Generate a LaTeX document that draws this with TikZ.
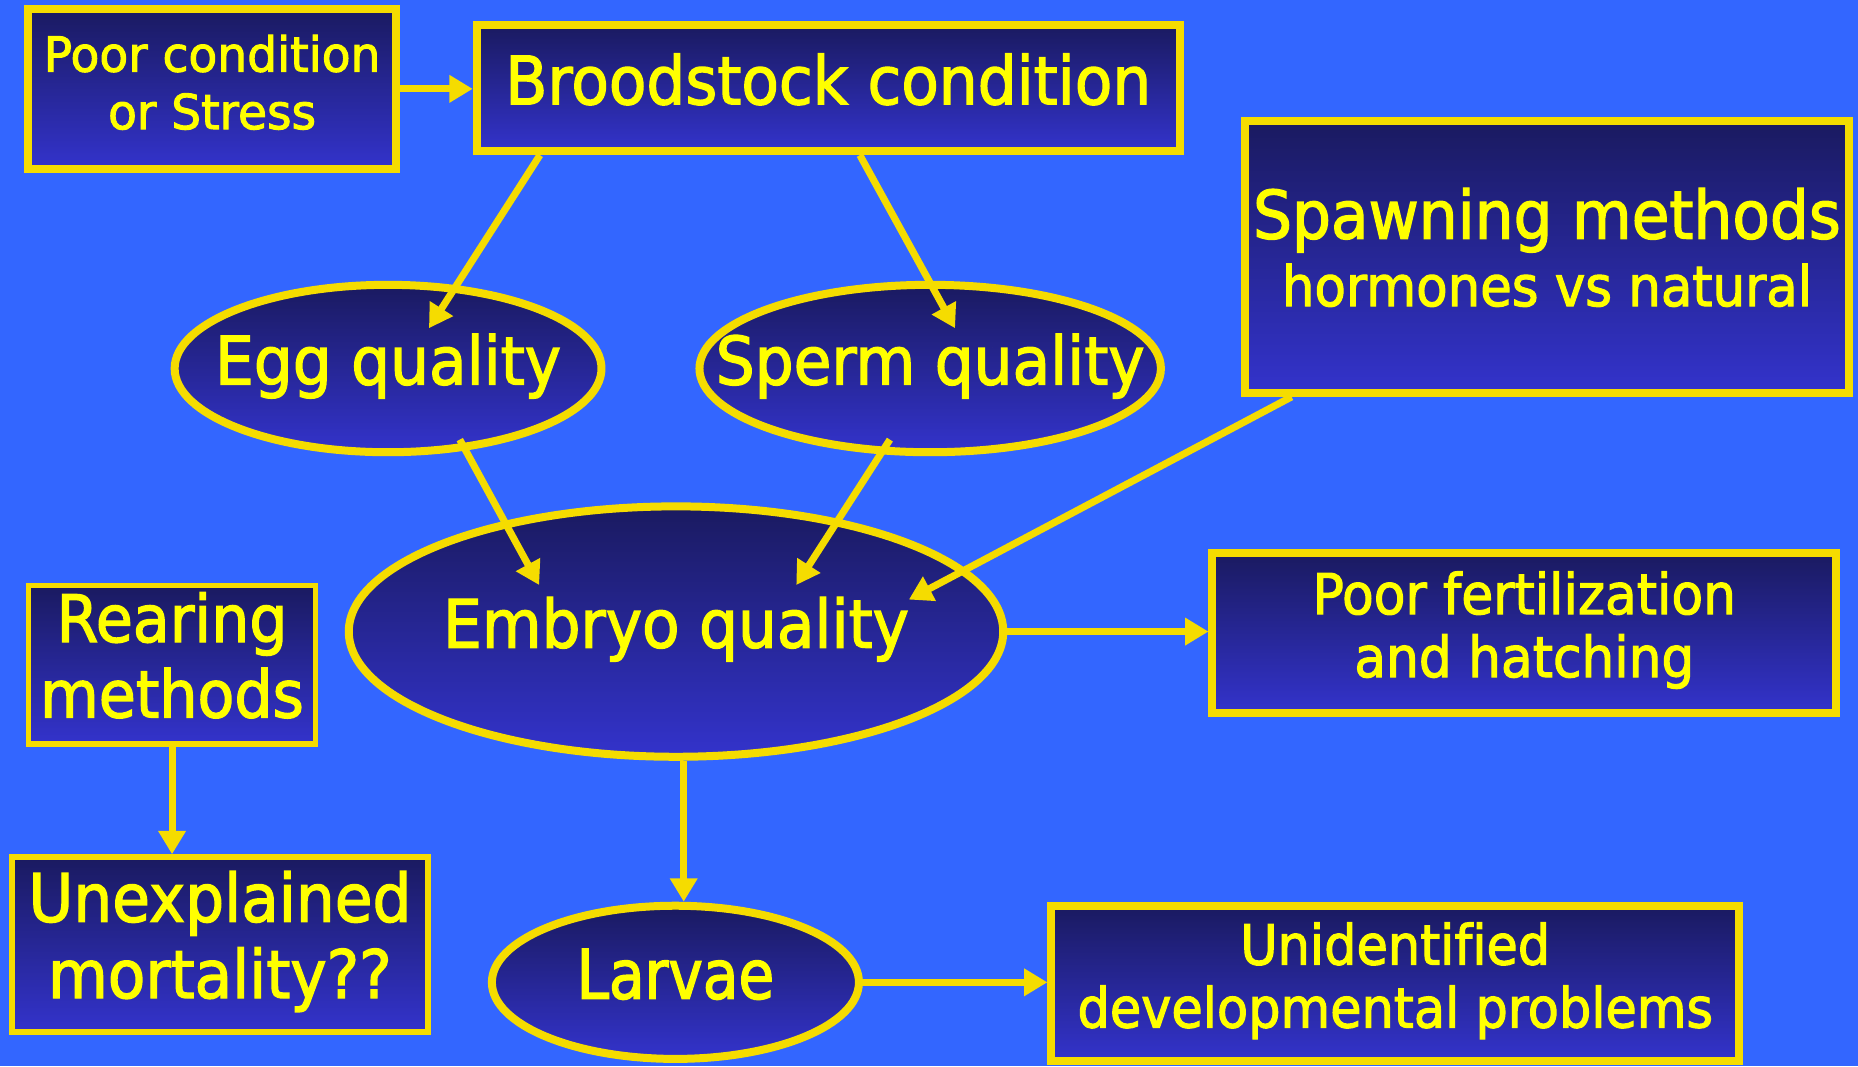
\documentclass[tikz,border=0pt]{standalone}
\usepackage{fontspec}
\setmainfont[FakeStretch=0.92, Ligatures=NoCommon, RawFeature={embolden=2}]{DejaVu Sans}
\newfontfamily\loosefont[FakeStretch=0.975, Ligatures=NoCommon, RawFeature={embolden=2}]{DejaVu Sans}
\newfontfamily\tightfont[FakeStretch=0.85, Ligatures=NoCommon, RawFeature={embolden=2}]{DejaVu Sans}
\usetikzlibrary{arrows.meta, calc, shapes.geometric}
\definecolor{bgblue}{RGB}{51,102,255}
\definecolor{rimyellow}{RGB}{245,220,0}
\definecolor{txtyellow}{RGB}{255,255,0}
\definecolor{navytop}{RGB}{26,26,96}
\definecolor{navybot}{RGB}{51,51,204}

\tikzset{
  box/.style={rectangle, draw=rimyellow, line width=1.92pt, top color=navytop, bottom color=navybot,
    text=txtyellow, align=center, inner sep=0pt},
  thinbox/.style={box, line width=1.37pt},
  oval/.style={ellipse, draw=rimyellow, line width=1.92pt, top color=navytop, bottom color=navybot, inner sep=0pt},
  ovaltxt/.style={text=txtyellow, font=\fontsize{16pt}{19.2pt}\selectfont},
  arr/.style={draw=rimyellow, line width=1.7pt, -{Triangle[length=5.6pt,width=6.3pt]}},
}

\begin{document}
\begin{tikzpicture}[x=0.01cm, y=-0.01cm]
\fill[bgblue] (0,0) rectangle (1568,900);
\useasboundingbox (0,0) rectangle (1568,900);

% boxes
\node[box, minimum width=3.10cm, minimum height=1.35cm, font=\loosefont\fontsize{11.6pt}{13.8pt}\selectfont]
  (cond) at (179,75) {\strut Poor condition\\\strut or Stress};
\node[box, minimum width=5.93cm, minimum height=1.06cm, font=\fontsize{16pt}{19.2pt}\selectfont]
  (brood) at (699,74.5) {\strut Broodstock condition};
\node[box, minimum width=5.10cm, minimum height=2.29cm, font=\fontsize{16pt}{16.2pt}\selectfont]
  (spawn) at (1305.5,217) {\strut Spawning methods\\\fontsize{13.4pt}{16.2pt}\selectfont\strut hormones vs natural};
\node[thinbox, minimum width=2.42cm, minimum height=1.335cm, font=\fontsize{15.7pt}{18.1pt}\selectfont]
  (rear) at (145.2,560.9) {\strut Rearing\\\strut methods};
\node[thinbox, minimum width=3.507cm, minimum height=1.476cm, font=\fontsize{16pt}{18.3pt}\selectfont]
  (unexp) at (185.6,797.2) {\strut Unexplained\\\strut mortality??};
\node[box, minimum width=5.26cm, minimum height=1.345cm, font=\fontsize{13.5pt}{15.1pt}\selectfont]
  (fert) at (1286.4,534.2) {\strut Poor fertilization\\\strut and hatching};
\node[box, minimum width=5.80cm, minimum height=1.31cm, font=\fontsize{13.3pt}{15.1pt}\selectfont]
  (unid) at (1177.5,830) {\strut Unidentified\\\strut developmental problems};

% ovals
\node[oval, minimum width=3.60cm, minimum height=1.412cm, label={[ovaltxt]center:\strut Egg quality}]
  (egg) at (327.5,311) {};
\node[oval, minimum width=3.892cm, minimum height=1.412cm, label={[ovaltxt]center:\strut Sperm quality}]
  (sperm) at (785,311) {};
\node[oval, minimum width=5.52cm, minimum height=2.112cm, label={[ovaltxt]center:\strut Embryo quality}]
  (embryo) at (570.5,533) {};
\node[oval, minimum width=3.096cm, minimum height=1.292cm,
  label={[ovaltxt, font=\tightfont\fontsize{16.4pt}{19.7pt}\selectfont]center:\strut Larvae}]
  (larvae) at (570,829) {};

% arrows
\draw[arr] (cond.east) -- (cond.east -| brood.west);
\draw[arr] ($(brood.south west)+(56.7,0)$) -- ($(egg.center)+(34.5,-34)$);
\draw[arr] ($(brood.south west)+(326.7,0)$) -- ($(sperm.center)+(21,-34)$);
\draw[arr] ($(egg.center)+(60.5,60)$) -- ($(embryo.center)+(-115.5,-39.3)$);
\draw[arr] ($(sperm.center)+(-34,60)$) -- ($(embryo.center)+(101.5,-39.3)$);
\draw[arr] ($(spawn.south west)+(43,0)$) -- ($(embryo.center)+(196.5,-27)$);
\draw[arr] (embryo.east) -- (embryo.east -| fert.west);
\draw[arr] ($(embryo.south)+(6.5,0)$) -- ($(larvae.north)+(7,0)$);
\draw[arr] (larvae.east) -- (larvae.east -| unid.west);
\draw[arr] (rear.south) -- (rear.south |- unexp.north);
\end{tikzpicture}
\end{document}
